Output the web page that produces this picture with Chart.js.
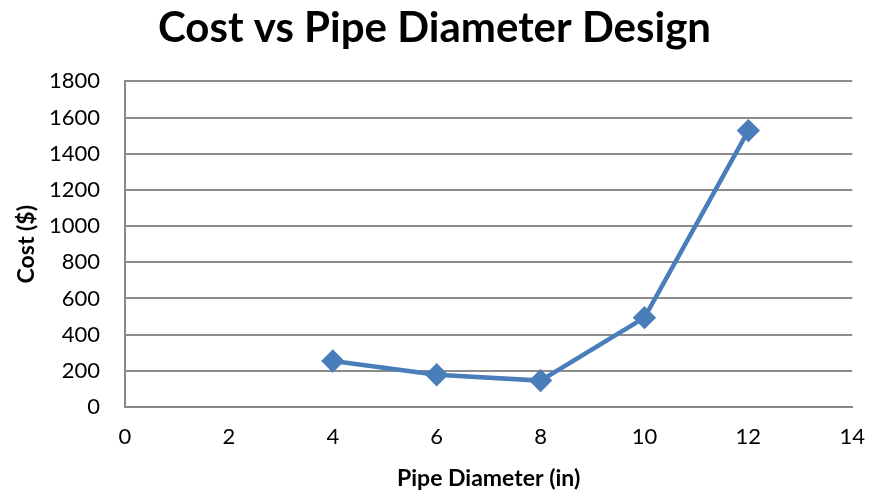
<!DOCTYPE html>
<html>
<head>
<meta charset="utf-8">
<script src="https://cdn.jsdelivr.net/npm/chart.js@4"></script>
<style>
  html, body { margin: 0; padding: 0; background: #fff; }
  #wrap { width: 882px; height: 495px; }
</style>
</head>
<body>
<div id="wrap"><canvas id="c" width="882" height="495"></canvas></div>
<script>
// data
const diameters = [4, 6, 8, 10, 12];
const costs = [254, 178, 146, 494, 1528];
const xTicks = [0, 2, 4, 6, 8, 10, 12, 14];
const yTicks = [0, 200, 400, 600, 800, 1000, 1200, 1400, 1600, 1800];

const FONT = "Lato, 'Open Sans', sans-serif";

new Chart(document.getElementById('c'), {
    type: 'scatter',
    data: {
        datasets: [{
            data: diameters.map((d, i) => ({ x: d, y: costs[i] })),
            showLine: true,
            borderColor: '#4a7ebb',
            backgroundColor: '#4a7ebb',
            borderWidth: 4.5,
            pointStyle: 'rectRot',
            pointRadius: 8.5,
            pointHoverRadius: 8.5,
            tension: 0
        }]
    },
    options: {
        responsive: false,
        animation: false,
        devicePixelRatio: 1,
        layout: { padding: { top: 0, right: 25, bottom: 3, left: 12 } },
        plugins: {
            legend: { display: false },
            tooltip: { enabled: false },
            title: {
                display: true,
                text: 'Cost vs Pipe Diameter Design',
                color: '#000',
                font: { family: FONT, size: 42, weight: 'bold' },
                padding: { top: 3, bottom: 28 }
            }
        },
        scales: {
            x: {
                type: 'linear',
                min: 0, max: 14,
                afterBuildTicks: axis => { axis.ticks = xTicks.map(v => ({ value: v })); },
                afterFit: axis => { axis.height = 85; },
                grid: { display: false, drawTicks: false },
                border: { display: true, color: '#888', width: 2 },
                ticks: { color: '#000', padding: 17, font: { family: FONT, size: 22 } },
                title: {
                    display: true,
                    text: 'Pipe Diameter (in)',
                    color: '#000',
                    font: { family: FONT, size: 23, weight: 'bold' },
                    padding: { top: 0, bottom: 0 }
                }
            },
            y: {
                min: 0, max: 1800,
                afterBuildTicks: axis => { axis.ticks = yTicks.map(v => ({ value: v })); },
                afterFit: axis => { axis.width = 113; },
                grid: { color: '#8c8c8c', lineWidth: 2, drawTicks: false },
                border: { display: true, color: '#888', width: 2 },
                ticks: {
                    color: '#000', padding: 25, font: { family: FONT, size: 22 },
                    callback: v => String(v)
                },
                title: {
                    display: true,
                    text: 'Cost ($)',
                    color: '#000',
                    font: { family: FONT, size: 23, weight: 'bold' },
                    padding: { top: 1, bottom: 0 }
                }
            }
        }
    }
});
</script>
</body>
</html>
